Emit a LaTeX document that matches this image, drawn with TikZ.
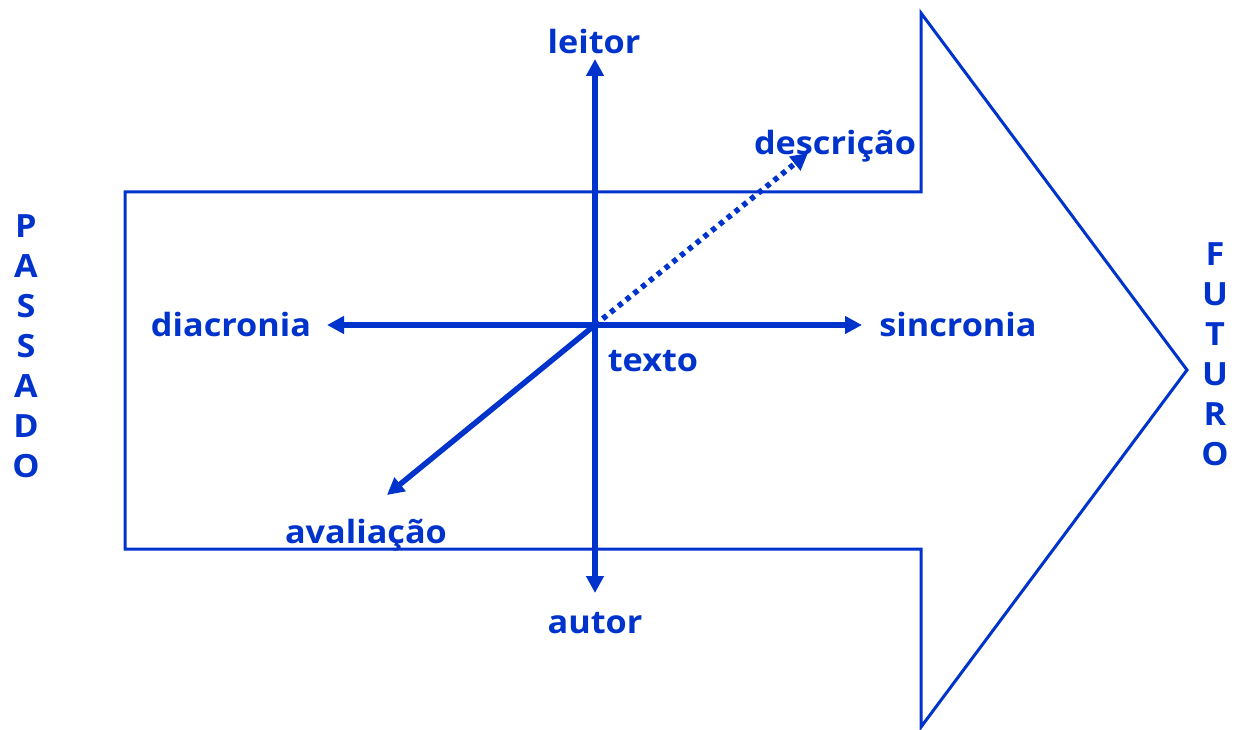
\documentclass[tikz,border=0pt]{standalone}
\usepackage{fontspec}
\setmainfont{Open Sans}[FakeStretch=1.07]
\usetikzlibrary{arrows.meta}
\definecolor{blu}{HTML}{0033CC}
\begin{document}
\begin{tikzpicture}[x=1pt,y=-1pt,
  lbl/.style={font=\fontsize{32}{40}\selectfont\bfseries, text=blu, inner sep=0pt, anchor=base},
  letter/.style={font=\fontsize{32}{40}\selectfont\bfseries, text=blu, inner sep=0pt},
  axis/.style={draw=blu, line width=5.5pt, -{Triangle[length=17pt,width=17pt]}},
  dotaxis/.style={axis, dash pattern=on 5pt off 5pt}]
\useasboundingbox (0,0) rectangle (1235,730);
\draw[blu, line width=3pt, line join=miter] (125,192) -- (921,192) -- (921,13) -- (1187,370) -- (921,727) -- (921,549) -- (125,549) -- cycle;
\coordinate (c) at (595,325);
\coordinate (tU) at (595,59);
\coordinate (tD) at (595,593);
\coordinate (tL) at (327,325);
\coordinate (tR) at (862,325);
\coordinate (tDL) at (387,495);
\coordinate (tUR) at (808,153);
\draw[axis] (c) -- (tU);
\draw[axis] (c) -- (tD);
\draw[axis] (c) -- (tL);
\draw[axis] (c) -- (tR);
\draw[axis] (c) -- (tDL);
\draw[dotaxis] (c) -- (tUR);
\node[lbl] (leitor) at (594,54) {leitor};
\node[lbl] (autor) at (595,633) {autor};
\node[lbl] (diacronia) at (231,336) {diacronia};
\node[lbl] (sincronia) at (958,336) {sincronia};
\node[lbl] (texto) at (653,371) {texto};
\node[lbl] (descricao) at (835,155) {descrição};
\node[lbl] (avaliacao) at (366,543) {avaliação};
\foreach \l [count=\i from 0] in {P,A,S,S,A,D,O}
  \node[letter] (pas\i) at (26,{226+40*\i}) {\l};
\foreach \l [count=\i from 0] in {F,U,T,U,R,O}
  \node[letter] (fut\i) at (1215,{254+40*\i}) {\l};
\end{tikzpicture}
\end{document}
